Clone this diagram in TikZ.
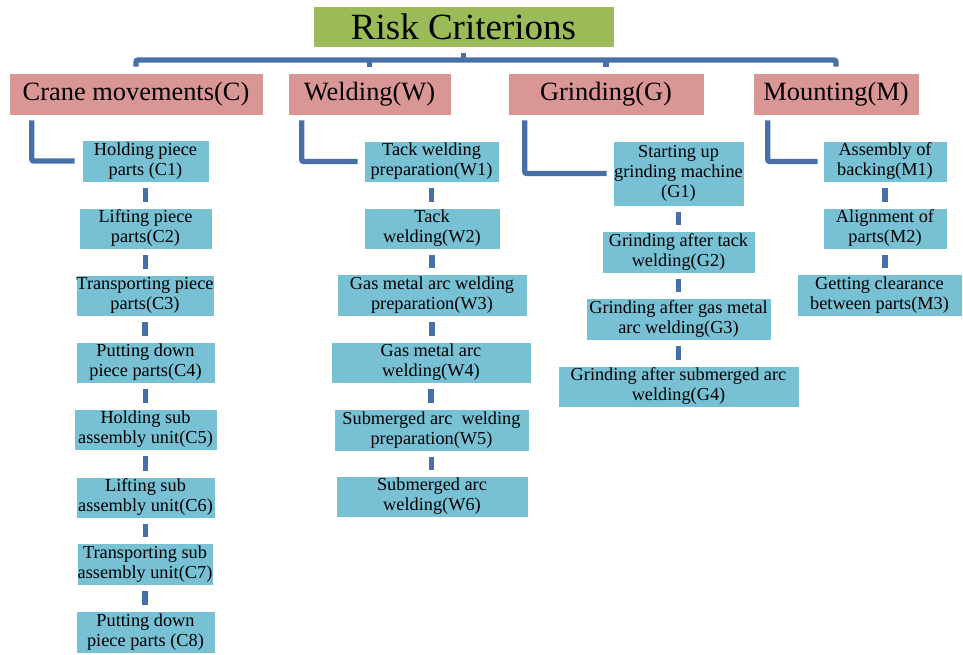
\documentclass[tikz,border=0pt]{standalone}
\usepackage{fontspec}
\setmainfont{Liberation Serif}
\definecolor{titlegreen}{RGB}{155,187,89}
\definecolor{catpink}{RGB}{217,150,148}
\definecolor{leafblue}{RGB}{120,192,212}
\definecolor{linkblue}{RGB}{72,112,168}
\newcommand\bx[7]{\node[#1, minimum width={#5pt-#3pt}, minimum height={#6pt-#4pt}] (#2) at ({(#3+#5)/2},{(#4+#6)/2}) {#7};}
\begin{document}
\begin{tikzpicture}[x=1pt,y=-1pt,
  titlebox/.style={fill=titlegreen, draw=white, line width=0.6pt, inner sep=0pt, font=\fontsize{37}{40}\selectfont},
  catbox/.style={fill=catpink, draw=white, line width=0.6pt, inner sep=0pt, font=\fontsize{26.4}{29}\selectfont},
  leafbox/.style={fill=leafblue, draw=white, line width=0.6pt, inner sep=0pt, align=center, font=\fontsize{18.3}{20}\selectfont},
  conn/.style={draw=linkblue, line width=5.3pt},
  elbow/.style={conn, rounded corners=2pt}]
\useasboundingbox (0,0) rectangle (963,655);
% title and categories
\bx{titlebox}{title}{313}{6}{614}{47}{Risk Criterions}
\bx{catbox}{crane}{9}{73}{263}{115}{Crane movements(C)}
\bx{catbox}{weld}{288}{73}{451}{115}{Welding(W)}
\bx{catbox}{grind}{508}{73}{704}{115}{Grinding(G)}
\bx{catbox}{mount}{753}{73}{919}{115}{Mounting(M)}
% crane column
\bx{leafbox}{C1}{82}{140}{209}{182}{Holding piece\\parts (C1)}
\bx{leafbox}{C2}{79}{208}{212}{249}{Lifting piece\\parts(C2)}
\bx{leafbox}{C3}{76}{275}{214}{316}{Transporting piece\\parts(C3)}
\bx{leafbox}{C4}{76}{342}{215}{383}{Putting down\\piece parts(C4)}
\bx{leafbox}{C5}{74}{409}{217}{450}{Holding sub\\assembly unit(C5)}
\bx{leafbox}{C6}{76}{477}{215}{518}{Lifting sub\\assembly unit(C6)}
\bx{leafbox}{C7}{77}{543}{213}{585}{Transporting sub\\assembly unit(C7)}
\bx{leafbox}{C8}{76}{611}{215}{653}{Putting down\\piece parts (C8)}
% welding column
\bx{leafbox}{W1}{364}{141}{499}{182}{Tack welding\\preparation(W1)}
\bx{leafbox}{W2}{364}{208}{500}{249}{Tack\\welding(W2)}
\bx{leafbox}{W3}{337}{274}{527}{316}{Gas metal arc welding\\preparation(W3)}
\bx{leafbox}{W4}{331}{342}{531}{383}{Gas metal arc\\welding(W4)}
\bx{leafbox}{W5}{334}{409}{529}{451}{Submerged arc\ \ welding\\preparation(W5)}
\bx{leafbox}{W6}{336}{476}{528}{517}{Submerged arc\\welding(W6)}
% grinding column
\bx{leafbox}{G1}{613}{141}{744}{206}{Starting up\\grinding machine\\(G1)}
\bx{leafbox}{G2}{602}{231}{755}{273}{Grinding after tack\\welding(G2)}
\bx{leafbox}{G3}{586}{298}{771}{340}{Grinding after gas metal\\arc welding(G3)}
\bx{leafbox}{G4}{558}{366}{799}{407}{Grinding after submerged arc\\welding(G4)}
% mounting column
\bx{leafbox}{M1}{823}{141}{947}{182}{Assembly of\\backing(M1)}
\bx{leafbox}{M2}{823}{208}{947}{249}{Alignment of\\parts(M2)}
\bx{leafbox}{M3}{797}{274}{962}{316}{Getting clearance\\between parts(M3)}
% top bus
\coordinate (busy) at (0,60);
\draw[elbow] ([yshift=6pt]crane.north) -- (crane.north |- busy) -- (mount.north |- busy) -- ([yshift=6pt]mount.north);
\draw[conn] ([yshift=6pt]weld.north) -- (weld.north |- busy);
\draw[conn] ([yshift=6pt]grind.north) -- (grind.north |- busy);
\draw[conn] ([yshift=-6pt]title.south) -- (title.south |- busy);
% elbows
\draw[elbow] ([xshift=23pt,yshift=-5pt]crane.south west) |- ([xshift=-7pt]C1.west);
\draw[elbow] ([xshift=14pt,yshift=-5pt]weld.south west) |- ([xshift=-6pt]W1.west);
\draw[elbow] ([xshift=17pt,yshift=-5pt]grind.south west) |- ([xshift=-6pt]G1.west);
\draw[elbow] ([xshift=15pt,yshift=-5pt]mount.south west) |- ([xshift=-5pt]M1.west);
% dashes within columns (kept on the column axis of the upper box)
\foreach \a/\b in {C1/C2,C2/C3,C3/C4,C4/C5,C5/C6,C6/C7,C7/C8,W1/W2,W2/W3,W3/W4,W4/W5,W5/W6,G1/G2,G2/G3,G3/G4,M1/M2,M2/M3}
  \draw[conn] ([yshift=-5.5pt]\a.south) -- ([yshift=5.5pt]\a.south |- \b.north);
\end{tikzpicture}
\end{document}
